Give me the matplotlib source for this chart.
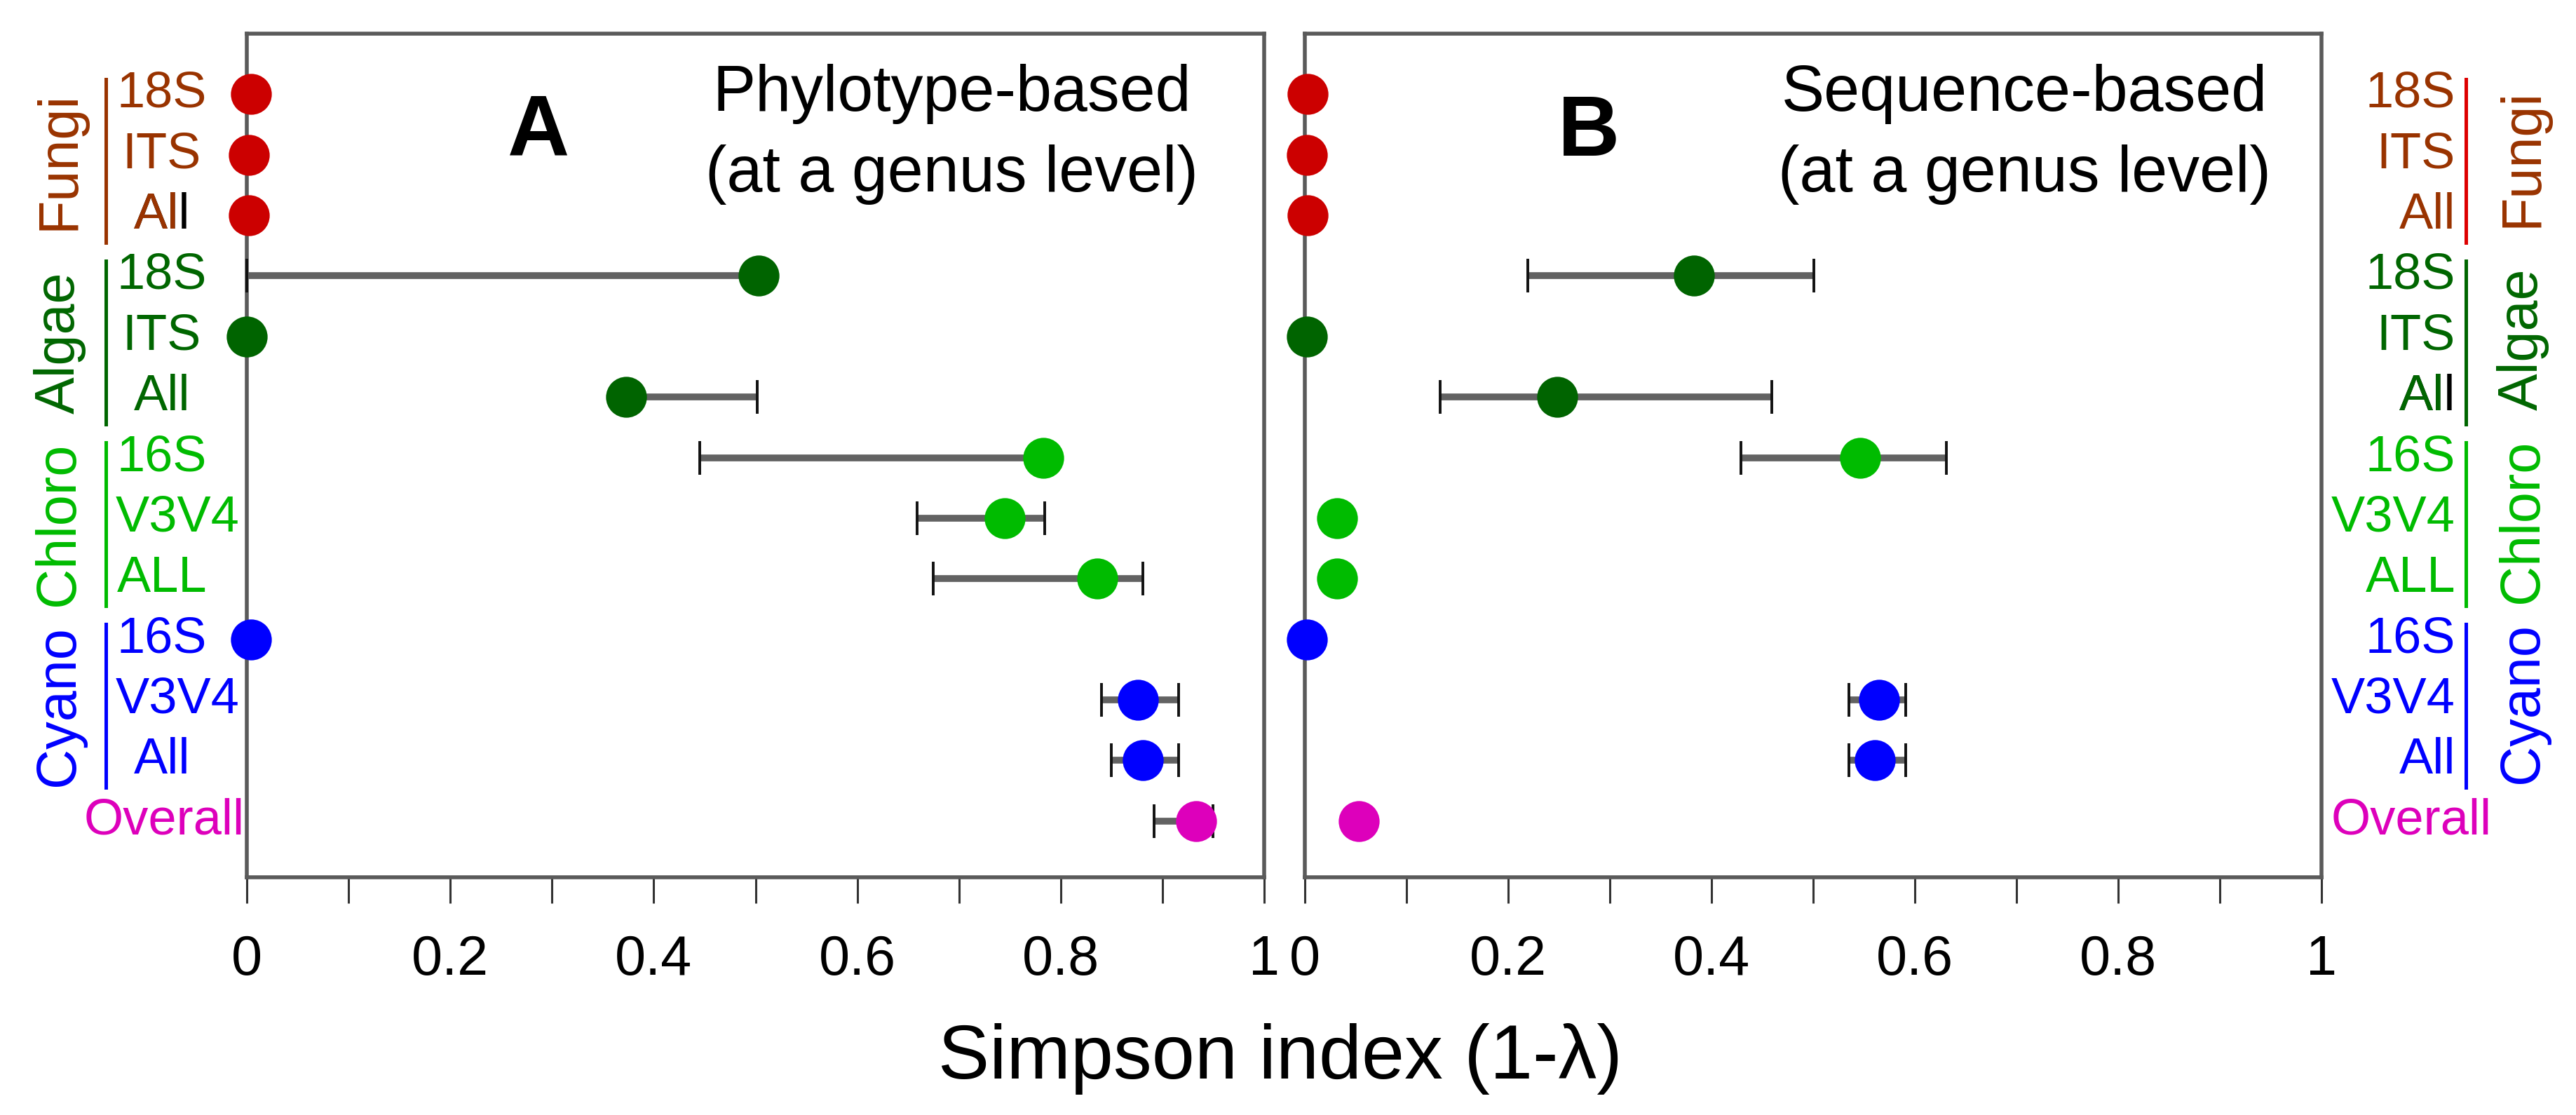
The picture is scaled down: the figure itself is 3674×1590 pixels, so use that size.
import numpy as np
import matplotlib
matplotlib.use("Agg")
import matplotlib.pyplot as plt
from matplotlib import transforms

plt.rcParams['font.family'] = ['Liberation Sans', 'DejaVu Sans']

# Rows (top to bottom) and groups
row_labels = ['18S', 'ITS', 'All', '18S', 'ITS', 'All', '16S', 'V3V4', 'ALL',
              '16S', 'V3V4', 'All', 'Overall']
groups = ['Fungi', 'Algae', 'Chloro', 'Cyano']
group_text_colors = ['#993300', '#006600', '#00bb00', '#0000ff']
dot_colors = ['#cc0000', '#006400', '#00bb00', '#0000ff']
overall_color = '#dd00bb'

# Panel A: phylotype-based (mean, lower end, upper end of error bar)
a_mean = [0.004, 0.002, 0.002, 0.503, 0.0, 0.373, 0.783, 0.745, 0.836, 0.004, 0.876, 0.881, 0.933]
a_lo = [0.004, 0.002, 0.002, 0.0, 0.0, 0.373, 0.445, 0.659, 0.675, 0.004, 0.840, 0.850, 0.892]
a_hi = [0.004, 0.002, 0.002, 0.503, 0.0, 0.502, 0.783, 0.784, 0.881, 0.004, 0.916, 0.916, 0.950]

# Panel B: sequence-based
b_mean = [0.003, 0.002, 0.003, 0.383, 0.002, 0.248, 0.546, 0.032, 0.032, 0.002, 0.565, 0.561, 0.053]
b_lo = [0.003, 0.002, 0.003, 0.219, 0.002, 0.133, 0.429, 0.032, 0.032, 0.002, 0.535, 0.535, 0.053]
b_hi = [0.003, 0.002, 0.003, 0.501, 0.002, 0.459, 0.631, 0.032, 0.032, 0.002, 0.591, 0.591, 0.053]

tick_vals = np.arange(11) / 10
tick_text = ['0', '', '0.2', '', '0.4', '', '0.6', '', '0.8', '', '1']

W, H, DPI = 3674, 1590, 200
fig = plt.figure(figsize=(W / DPI, H / DPI), dpi=DPI)
ax_a = fig.add_axes([352 / W, 1 - 1251 / H, 1451 / W, 1203 / H])
ax_b = fig.add_axes([1861 / W, 1 - 1251 / H, 1450 / W, 1203 / H])


def row_color(i):
    if i == len(row_labels) - 1:
        return overall_color
    return dot_colors[i // 3]


def draw_panel(ax, mean, lo, hi, letter, letter_x, lines, text_x):
    for sp in ax.spines.values():
        sp.set_color('#5a5a5a')
        sp.set_linewidth(2.0)
    ax.set_xlim(0, 1)
    ax.set_ylim(12.93, -1.0)
    ax.set_yticks([])
    ax.set_xticks(tick_vals)
    ax.set_xticklabels(tick_text)
    ax.tick_params(axis='x', direction='out', length=13.3, width=1.1,
                   color='#333333', pad=16, labelsize=28.5)
    y = np.arange(len(mean))
    for i in range(len(mean)):
        if hi[i] > lo[i]:
            ax.hlines(y[i], lo[i], hi[i], color='#626262', lw=3.5, zorder=3,
                      clip_on=False)
            # caps only on the ends that stick out of the marker
            for end in (lo[i], hi[i]):
                if abs(end - mean[i]) > 1e-9:
                    ax.plot(end, y[i], marker='|', ms=17, mew=1.4,
                            color='#111111', zorder=4, clip_on=False)
        ax.plot(mean[i], y[i], 'o', ms=21, color=row_color(i), mec='none',
                zorder=5, clip_on=False)
    ax.text(letter_x, 1.01, letter, fontsize=44, fontweight='bold',
            ha='center', va='baseline')
    ax.text(text_x, 0.27, lines[0], fontsize=33, ha='center', va='baseline')
    ax.text(text_x, 1.61, lines[1], fontsize=33, ha='center', va='baseline')


draw_panel(ax_a, a_mean, a_lo, a_hi, 'A', 0.287,
           ['Phylotype-based', '(at a genus level)'], 0.693)
draw_panel(ax_b, b_mean, b_lo, b_hi, 'B', 0.279,
           ['Sequence-based', '(at a genus level)'], 0.708)

tr_l = transforms.blended_transform_factory(fig.transFigure, ax_a.transData)
tr_r = transforms.blended_transform_factory(fig.transFigure, ax_b.transData)

sub_fs = 26
grp_fs = 28.5
black_l = []  # labels whose last letter is black

# left side labels
for g, name in enumerate(groups):
    c = group_text_colors[g]
    fig.add_artist(plt.Line2D([151 / W, 151 / W], [3 * g - 0.25, 3 * g + 2.45],
                              transform=tr_l, color=c, lw=1.8))
    fig.text(85 / W, 3 * g + 1.1, name, transform=tr_l, rotation=90,
             ha='center', va='center', fontsize=grp_fs, color=c)
    for k in range(3):
        i = 3 * g + k
        lab = row_labels[i]
        if lab == 'V3V4':
            fig.text(165 / W, i, lab, transform=tr_l, ha='left', va='center',
                     fontsize=sub_fs, color=c)
        elif g == 0 and k == 2:
            t = fig.text(231 / W, i, lab, transform=tr_l, ha='center', va='center',
                         fontsize=sub_fs, color='black')
            black_l.append((t, c, tr_l, i))
        else:
            fig.text(231 / W, i, lab, transform=tr_l, ha='center', va='center',
                     fontsize=sub_fs, color=c)
fig.text(234 / W, 12, 'Overall', transform=tr_l, ha='center', va='center',
         fontsize=sub_fs, color=overall_color)

# right side labels
for g, name in enumerate(groups):
    c = group_text_colors[g]
    bar_c = '#dd0000' if g == 0 else c
    fig.add_artist(plt.Line2D([3517 / W, 3517 / W], [3 * g - 0.25, 3 * g + 2.45],
                              transform=tr_r, color=bar_c, lw=1.8))
    fig.text(3598 / W, 3 * g + 1.05, name, transform=tr_r, rotation=90,
             ha='center', va='center', fontsize=grp_fs, color=c)
    for k in range(3):
        i = 3 * g + k
        lab = row_labels[i]
        if g == 1 and k == 2:
            t = fig.text(3502 / W, i, lab, transform=tr_r, ha='right', va='center',
                         fontsize=sub_fs, color='black')
            black_l.append((t, c, tr_r, i))
        else:
            fig.text(3502 / W, i, lab, transform=tr_r, ha='right', va='center',
                     fontsize=sub_fs, color=c)
fig.text(3439 / W, 12, 'Overall', transform=tr_r, ha='center', va='center',
         fontsize=sub_fs, color=overall_color)

# colour the "Al" part of the labels that end in a black "l"
fig.canvas.draw()
renderer = fig.canvas.get_renderer()
for t, c, tr, i in black_l:
    x0 = t.get_window_extent(renderer).x0 / fig.bbox.width
    fig.text(x0, i, 'Al', transform=tr, ha='left', va='center',
             fontsize=sub_fs, color=c)

fig.text(1826 / W, 1 - 1538 / H, 'Simpson index (1-\u03bb)', ha='center',
         va='baseline', fontsize=39.5)

fig.savefig('out.png', dpi=DPI)
